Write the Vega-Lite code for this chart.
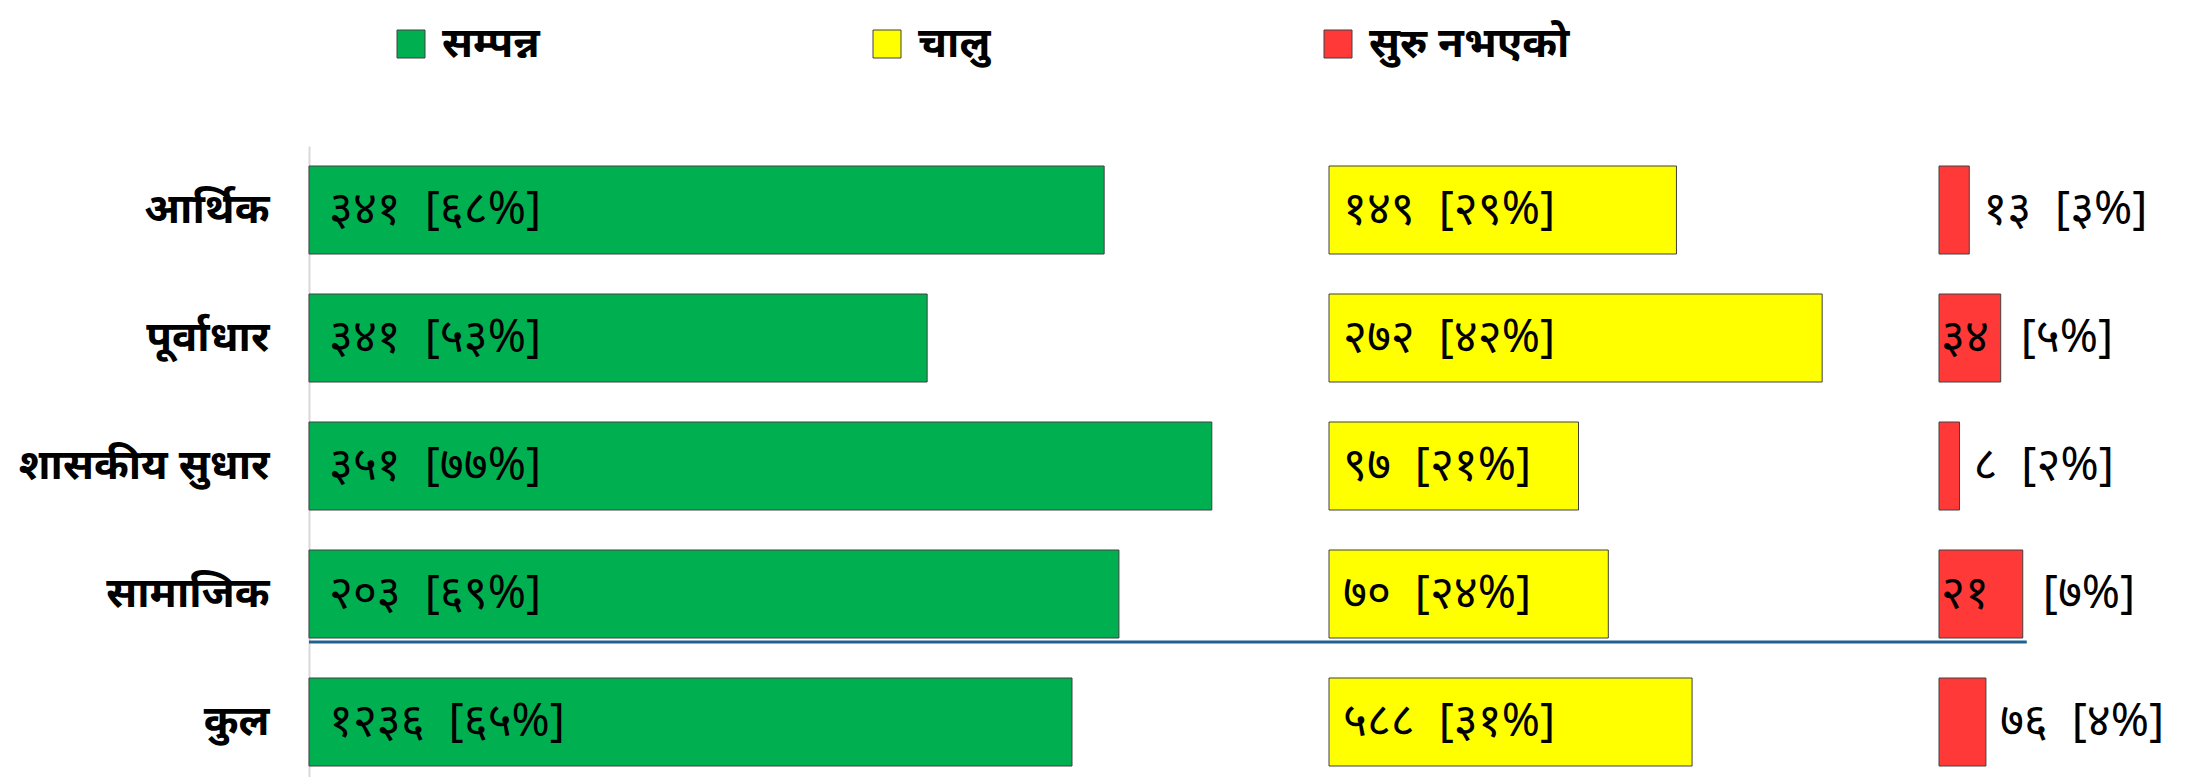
{
  "$schema": "https://vega.github.io/schema/vega-lite/v6.json",
  "padding": {"left": 18, "top": 23, "right": 0, "bottom": 0},
  "background": "white",
  "spacing": 0,
  "bounds": "flush",
  "config": {"view": {"stroke": null}, "font": "Noto Sans", "text": {"color": "black"}},
  "data": {"values": [
    {"cat": "आर्थिक", "status": "सम्पन्न", "n": 341, "pct": 67.79, "label": "३४१\u00a0\u00a0[६८%]", "ln": "३४१", "lp": "[६८%]"},
    {"cat": "आर्थिक", "status": "चालु", "n": 149, "pct": 29.62, "label": "१४९\u00a0\u00a0[२९%]", "ln": "१४९", "lp": "[२९%]"},
    {"cat": "आर्थिक", "status": "सुरु नभएको", "n": 13, "pct": 2.58, "label": "१३\u00a0\u00a0[३%]", "ln": "१३", "lp": "[३%]"},
    {"cat": "पूर्वाधार", "status": "सम्पन्न", "n": 341, "pct": 52.70, "label": "३४१\u00a0\u00a0[५३%]", "ln": "३४१", "lp": "[५३%]"},
    {"cat": "पूर्वाधार", "status": "चालु", "n": 272, "pct": 42.04, "label": "२७२\u00a0\u00a0[४२%]", "ln": "२७२", "lp": "[४२%]"},
    {"cat": "पूर्वाधार", "status": "सुरु नभएको", "n": 34, "pct": 5.26, "label": "३४\u00a0\u00a0[५%]", "ln": "३४", "lp": "[५%]"},
    {"cat": "शासकीय सुधार", "status": "सम्पन्न", "n": 351, "pct": 76.97, "label": "३५१\u00a0\u00a0[७७%]", "ln": "३५१", "lp": "[७७%]"},
    {"cat": "शासकीय सुधार", "status": "चालु", "n": 97, "pct": 21.27, "label": "९७\u00a0\u00a0[२१%]", "ln": "९७", "lp": "[२१%]"},
    {"cat": "शासकीय सुधार", "status": "सुरु नभएको", "n": 8, "pct": 1.75, "label": "८\u00a0\u00a0[२%]", "ln": "८", "lp": "[२%]"},
    {"cat": "सामाजिक", "status": "सम्पन्न", "n": 203, "pct": 69.05, "label": "२०३\u00a0\u00a0[६९%]", "ln": "२०३", "lp": "[६९%]"},
    {"cat": "सामाजिक", "status": "चालु", "n": 70, "pct": 23.81, "label": "७०\u00a0\u00a0[२४%]", "ln": "७०", "lp": "[२४%]"},
    {"cat": "सामाजिक", "status": "सुरु नभएको", "n": 21, "pct": 7.14, "label": "२१\u00a0\u00a0[७%]", "ln": "२१", "lp": "[७%]"},
    {"cat": "कुल", "status": "सम्पन्न", "n": 1236, "pct": 65.05, "label": "१२३६\u00a0\u00a0[६५%]", "ln": "१२३६", "lp": "[६५%]"},
    {"cat": "कुल", "status": "चालु", "n": 588, "pct": 30.95, "label": "५८८\u00a0\u00a0[३१%]", "ln": "५८८", "lp": "[३१%]"},
    {"cat": "कुल", "status": "सुरु नभएको", "n": 76, "pct": 4.00, "label": "७६\u00a0\u00a0[४%]", "ln": "७६", "lp": "[४%]"}
  ]},
  "hconcat": [
    {
      "width": 1020, "height": 640,
      "transform": [{"filter": "datum.status === 'सम्पन्न'"}],
      "encoding": {
        "y": {"field": "cat", "type": "nominal", "sort": ["आर्थिक", "पूर्वाधार", "शासकीय सुधार", "सामाजिक", "कुल"],
              "scale": {"paddingInner": 0.3125, "paddingOuter": 0.15625},
              "axis": {"title": null, "ticks": false, "labelPadding": 40, "labelFontSize": 42, "labelFontWeight": "bold", "labelColor": "black", "domainColor": "#D9D9D9", "domainWidth": 2, "labelLimit": 400}}
      },
      "layer": [
        {"mark": {"type": "bar", "stroke": "#404040", "strokeWidth": 1},
         "encoding": {
           "x": {"field": "pct", "type": "quantitative", "scale": {"domain": [0, 86.96], "nice": false}, "axis": null},
           "color": {"field": "status", "type": "nominal",
                     "scale": {"domain": ["सम्पन्न", "चालु", "सुरु नभएको"], "range": ["#00B050", "#FFFF00", "#FF3838"]},
                     "legend": {"orient": "none", "legendX": 81, "legendY": -123, "direction": "horizontal", "title": null,
                                "symbolType": "square", "symbolSize": 784, "symbolStrokeColor": "#333333", "symbolStrokeWidth": 1, "symbolOpacity": 1,
                                "labelFontSize": 42, "labelFontWeight": "bold", "labelColor": "black", "labelOffset": 10, "columnPadding": 326, "labelLimit": 400}}
         }},
        {"mark": {"type": "text", "align": "left", "baseline": "middle", "dx": 20, "fontSize": 46},
         "encoding": {"x": {"datum": 0, "type": "quantitative"}, "text": {"field": "label"}}},
        {"transform": [{"filter": "datum.cat === 'सामाजिक'"}],
         "mark": {"type": "rule", "color": "#1F6391", "strokeWidth": 3, "yOffset": 4},
         "encoding": {"y": {"field": "cat", "type": "nominal", "bandPosition": 1}}}
      ]
    },
    {
      "width": 610, "height": 640,
      "transform": [{"filter": "datum.status === 'चालु'"}],
      "encoding": {
        "y": {"field": "cat", "type": "nominal", "sort": ["आर्थिक", "पूर्वाधार", "शासकीय सुधार", "सामाजिक", "कुल"],
              "scale": {"paddingInner": 0.3125, "paddingOuter": 0.15625}, "axis": null}
      },
      "layer": [
        {"mark": {"type": "bar", "stroke": "#404040", "strokeWidth": 1},
         "encoding": {
           "x": {"field": "pct", "type": "quantitative", "scale": {"domain": [0, 52.0], "nice": false}, "axis": null},
           "color": {"field": "status", "type": "nominal"}
         }},
        {"mark": {"type": "text", "align": "left", "baseline": "middle", "dx": 14, "fontSize": 46},
         "encoding": {"x": {"datum": 0, "type": "quantitative"}, "text": {"field": "label"}}},
        {"transform": [{"filter": "datum.cat === 'सामाजिक'"}],
         "mark": {"type": "rule", "color": "#1F6391", "strokeWidth": 3, "yOffset": 4},
         "encoding": {"y": {"field": "cat", "type": "nominal", "bandPosition": 1}}}
      ]
    },
    {
      "width": 250, "height": 640,
      "transform": [{"filter": "datum.status === 'सुरु नभएको'"}],
      "encoding": {
        "y": {"field": "cat", "type": "nominal", "sort": ["आर्थिक", "पूर्वाधार", "शासकीय सुधार", "सामाजिक", "कुल"],
              "scale": {"paddingInner": 0.3125, "paddingOuter": 0.15625}, "axis": null}
      },
      "layer": [
        {"mark": {"type": "bar", "stroke": "#404040", "strokeWidth": 1},
         "encoding": {
           "x": {"field": "pct", "type": "quantitative", "scale": {"domain": [0, 21.31], "nice": false}, "axis": null},
           "color": {"field": "status", "type": "nominal"}
         }},
        {"transform": [{"filter": "datum.pct < 5"}],
         "mark": {"type": "text", "align": "left", "baseline": "middle", "dx": 14, "fontSize": 46},
         "encoding": {"x": {"field": "pct", "type": "quantitative"}, "text": {"field": "label"}}},
        {"transform": [{"filter": "datum.pct >= 5"}],
         "mark": {"type": "text", "align": "left", "baseline": "middle", "dx": 2, "fontSize": 46},
         "encoding": {"x": {"datum": 0, "type": "quantitative"}, "text": {"field": "ln"}}},
        {"transform": [{"filter": "datum.pct >= 5"}],
         "mark": {"type": "text", "align": "left", "baseline": "middle", "dx": 20, "fontSize": 46},
         "encoding": {"x": {"field": "pct", "type": "quantitative"}, "text": {"field": "lp"}}},
        {"transform": [{"filter": "datum.cat === 'सामाजिक'"}],
         "mark": {"type": "rule", "color": "#1F6391", "strokeWidth": 3, "yOffset": 4, "xOffset": 4},
         "encoding": {"x": {"field": "pct", "type": "quantitative"}, "x2": {"datum": 0}, "y": {"field": "cat", "type": "nominal", "bandPosition": 1}}}
      ]
    }
  ]
}
